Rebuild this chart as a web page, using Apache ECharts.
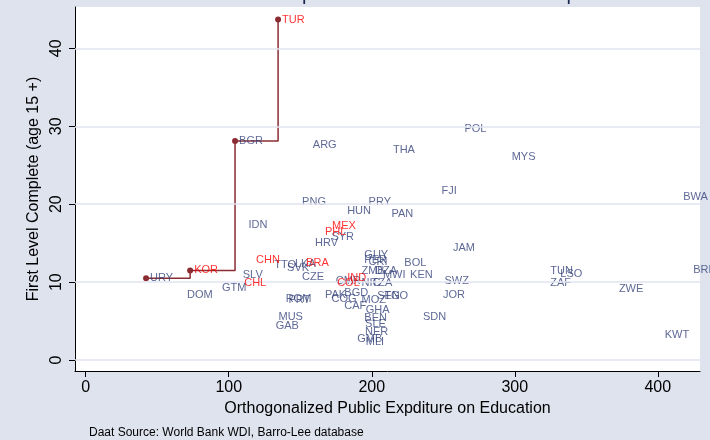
<!DOCTYPE html>
<html>
<head>
<meta charset="utf-8">
<script src="https://cdn.jsdelivr.net/npm/echarts@6/dist/echarts.min.js"></script>
<style>
  html, body { margin: 0; padding: 0; background: #dfe3ee; }
  #main { width: 710px; height: 440px; }
</style>
</head>
<body>
<div id="main"></div>
<script>
// country codes and their values (x = orthogonalized expenditure, y = first level complete)
var codes = ['URY','KOR','BGR','TUR','ARG','THA','POL','MYS','FJI','BWA','PNG','PRY','HUN','PAN','IDN',
  'MEX','PHL','SYR','HRV','JAM','GUY','PER','CRI','CHN','BOL','BRA','TTO','LKA','SVK','ZMB','DZA','MWI',
  'KEN','SLV','TUN','LSO','BRB','CZE','IND','SWZ','ZAF','CMR','NIC','TZA','COL','CHL','GTM','ZWE','DOM',
  'JOR','PAK','BGD','COG','MOZ','SEN','TGO','ROM','PRT','CAF','GHA','SDN','MUS','GAB','BEN','SLE','NER',
  'GMB','MLI','KWT'];
var xVals = [42.2, 73, 104.4, 134.5, 156, 212, 262, 295, 246, 415, 148.5, 195, 180, 211, 111,
  169.4, 164.5, 169, 157.5, 254, 192, 192, 195, 116.3, 220, 151.3, 129, 143.5, 138, 190, 199.5, 205,
  224, 107, 322, 329, 422, 148.5, 180, 248, 322, 172, 190, 197, 173, 108, 92.5, 370, 68,
  247, 164.5, 178, 169, 190, 201, 206, 137, 139, 178, 193, 233, 132, 130, 192, 192.5, 192.5,
  187, 193, 402];
var yVals = [10.5, 11.5, 28.1, 43.7, 27.6, 26.9, 29.7, 26.0, 21.7, 20.9, 20.3, 20.3, 19.1, 18.7, 17.3,
  17.2, 16.5, 15.8, 15.0, 14.4, 13.5, 12.8, 12.6, 12.8, 12.4, 12.4, 12.2, 12.3, 11.8, 11.4, 11.4, 10.9,
  10.9, 10.9, 11.4, 11.0, 11.5, 10.6, 10.5, 10.1, 9.9, 10.2, 9.9, 9.9, 9.9, 9.9, 9.2, 9.1, 8.3,
  8.3, 8.3, 8.6, 7.9, 7.7, 8.2, 8.2, 7.8, 7.7, 6.9, 6.4, 5.5, 5.5, 4.4, 5.4, 4.6, 3.6,
  2.7, 2.3, 3.2];
var redCodes = ['TUR','KOR','MEX','PHL','CHN','BRA','IND','COL','CHL'];
var frontierCodes = ['URY','KOR','BGR','TUR'];
var xTicks = [0, 100, 200, 300, 400];
var yTicks = [0, 10, 20, 30, 40];

var navyPts = [], redPts = [], frontierPts = [];
for (var i = 0; i < codes.length; i++) {
    var p = {name: codes[i], value: [xVals[i], yVals[i]]};
    if (redCodes.indexOf(codes[i]) >= 0) redPts.push(p); else navyPts.push(p);
}
for (var j = 0; j < frontierCodes.length; j++) {
    var k = codes.indexOf(frontierCodes[j]);
    frontierPts.push([xVals[k], yVals[k]]);
}

var gridLines = [];
for (var g = 0; g < yTicks.length; g++) gridLines.push({yAxis: yTicks[g]});

var labelStyle = function (col) {
    return {
        show: true,
        position: 'right',
        distance: 4,
        formatter: '{b}',
        color: col,
        fontSize: 11,
        fontFamily: 'Liberation Sans, Arial, sans-serif'
    };
};

var myChart = echarts.init(document.getElementById('main'));
var option = {
    backgroundColor: '#dfe3ee',
    animation: false,
    title: [{
        text: 'Frontier of Complete First Level Education Expenditure',
        left: 158,
        top: -21,
        textStyle: {fontSize: 20, fontWeight: 'normal', color: '#1a2550', fontFamily: 'Liberation Sans, Arial'}
    }, {
        text: 'Daat Source: World Bank WDI, Barro-Lee database',
        left: 84,
        top: 422,
        textStyle: {fontSize: 12, fontWeight: 'normal', color: '#000', fontFamily: 'Liberation Sans, Arial'}
    }],
    grid: {
        left: 75, top: 7, right: 10, bottom: 69,
        show: true, backgroundColor: '#ffffff', borderWidth: 0
    },
    xAxis: {
        type: 'value',
        min: -7.5, max: 429.5,
        name: 'Orthogonalized Public Expditure on Education',
        nameLocation: 'middle',
        nameGap: 30,
        nameTextStyle: {fontSize: 16, color: '#000', fontFamily: 'Liberation Sans, Arial'},
        axisLine: {show: true, onZero: false, lineStyle: {color: '#000', width: 1}},
        axisTick: {show: true, length: 6, customValues: xTicks, lineStyle: {color: '#000'}},
        axisLabel: {customValues: xTicks, fontSize: 16, color: '#000', margin: 9, fontFamily: 'Liberation Sans, Arial'},
        splitLine: {show: false}
    },
    yAxis: {
        type: 'value',
        min: -1.4, max: 45.3,
        name: 'First Level Complete (age 15 +)',
        nameLocation: 'middle',
        nameGap: 32,
        nameTextStyle: {fontSize: 16, color: '#000', fontFamily: 'Liberation Sans, Arial'},
        axisLine: {show: true, onZero: false, lineStyle: {color: '#000', width: 1}},
        axisTick: {show: true, length: 6, customValues: yTicks, lineStyle: {color: '#000'}},
        axisLabel: {customValues: yTicks, rotate: 90, fontSize: 16, color: '#000', margin: 10, fontFamily: 'Liberation Sans, Arial'},
        splitLine: {show: false}
    },
    series: [{
        type: 'scatter',
        data: [],
        silent: true,
        markLine: {
            silent: true,
            symbol: 'none',
            label: {show: false},
            lineStyle: {color: '#e1e5ef', type: 'solid', width: 1.5},
            data: gridLines
        }
    }, {
        type: 'line',
        step: 'end',
        data: frontierPts,
        symbol: 'circle',
        symbolSize: 6,
        itemStyle: {color: '#8b2c32'},
        lineStyle: {color: '#8b2c32', width: 1.5},
        z: 3
    }, {
        type: 'scatter',
        data: navyPts,
        symbolSize: 0,
        label: labelStyle('#34427a'),
        z: 4
    }, {
        type: 'scatter',
        data: redPts,
        symbolSize: 0,
        label: labelStyle('#ff0000'),
        z: 5
    }]
};
myChart.setOption(option);
</script>
</body>
</html>
